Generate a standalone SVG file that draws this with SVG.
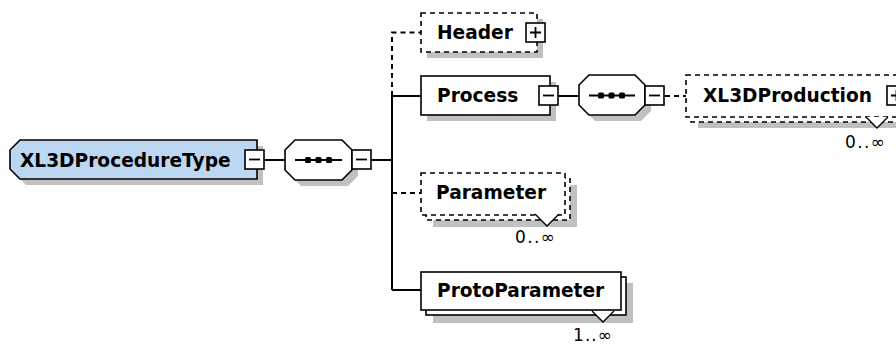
<svg xmlns="http://www.w3.org/2000/svg" width="896" height="344" viewBox="0 0 896 344">
<style>
.shadow{fill:#c0c0c0;stroke:none}
.box{fill:#fff;stroke:#000;stroke-width:1.6}
.dbox{fill:#fff;stroke:#000;stroke-width:1.6;stroke-dasharray:5 4}
.root{fill:#bcd7f2;stroke:#000;stroke-width:1.6}
.lbl{font-family:"DejaVu Sans",Verdana,sans-serif;font-weight:bold;font-size:18.6px;fill:#000}
.occ{font-family:"DejaVu Sans",Verdana,sans-serif;font-size:17px;fill:#000}
.ln{stroke:#000;stroke-width:2;fill:none}
.dl{stroke:#000;stroke-width:2;fill:none;stroke-dasharray:5 4}
.btn{fill:#fff;stroke:#000;stroke-width:1.6}
.sym{stroke:#000;stroke-width:1.8;fill:none}
.tri{fill:#fff;stroke:#000;stroke-width:1.4}
</style>
<g id="connectors">
<line class="ln" x1="264" y1="160" x2="285" y2="160"/>
<line class="ln" x1="371" y1="160" x2="392" y2="160"/>
<path class="dl" d="M392,96 V32.5 H421"/>
<line class="ln" x1="392" y1="96" x2="392" y2="290"/>
<line class="ln" x1="392" y1="96" x2="421" y2="96"/>
<line class="dl" x1="392" y1="193" x2="421" y2="193"/>
<line class="ln" x1="392" y1="290" x2="421" y2="290"/>
<line class="ln" x1="558" y1="96" x2="579" y2="96"/>
<line class="dl" x1="665" y1="96" x2="686" y2="96"/>
</g>
<g id="XL3DProcedureType">
<polygon class="shadow" points="26,146 263,146 263,185 26,185 16,175 16,156"/>
<polygon class="root" points="20,140 257,140 257,179 20,179 10,169 10,150"/>
<text class="lbl" x="20" y="166.5">XL3DProcedureType</text>
<rect class="btn" x="245" y="150" width="19" height="19"/>
<line class="sym" x1="249" y1="159.5" x2="260" y2="159.5"/>
</g>
<g id="seq1">
<polygon class="shadow" points="301,146 348,146 358,156 358,176 348,186 301,186 291,176 291,156"/>
<polygon class="box" points="295,140 342,140 352,150 352,170 342,180 295,180 285,170 285,150"/>
<line class="sym" x1="295" y1="160" x2="342" y2="160"/>
<rect x="305" y="157" width="6" height="6" rx="1.5"/>
<rect x="315.5" y="157" width="6" height="6" rx="1.5"/>
<rect x="326" y="157" width="6" height="6" rx="1.5"/>
<rect class="btn" x="352" y="150" width="19" height="19"/>
<line class="sym" x1="356" y1="159.5" x2="367" y2="159.5"/>
</g>
<g id="Header">
<rect class="shadow" x="427" y="19" width="116" height="39"/>
<rect class="dbox" x="421" y="13" width="116" height="39"/>
<text class="lbl" x="437" y="38.5">Header</text>
<rect class="btn" x="526" y="23" width="19" height="19"/>
<path class="sym" d="M530,32.5 H541 M535.5,27 V38"/>
</g>
<g id="Process">
<rect class="shadow" x="427" y="82" width="129" height="39"/>
<rect class="box" x="421" y="76" width="129" height="39"/>
<text class="lbl" x="437" y="102">Process</text>
<rect class="btn" x="539" y="86" width="19" height="19"/>
<line class="sym" x1="543" y1="95.5" x2="554" y2="95.5"/>
</g>
<g id="seq2">
<polygon class="shadow" points="595,81 641,81 651,91 651,111 641,121 595,121 585,111 585,91"/>
<polygon class="box" points="589,75 635,75 645,85 645,105 635,115 589,115 579,105 579,85"/>
<line class="sym" x1="589" y1="95.5" x2="635" y2="95.5"/>
<rect x="598" y="92.5" width="6" height="6" rx="1.5"/>
<rect x="608.5" y="92.5" width="6" height="6" rx="1.5"/>
<rect x="619" y="92.5" width="6" height="6" rx="1.5"/>
<rect class="btn" x="645" y="86" width="19" height="19"/>
<line class="sym" x1="649" y1="95.5" x2="660" y2="95.5"/>
</g>
<g id="XL3DProduction">
<rect class="shadow" x="698" y="87" width="210" height="41"/>
<rect class="dbox" x="691" y="80" width="215" height="42"/>
<rect class="dbox" x="686" y="75" width="215" height="42"/>
<text class="lbl" x="703" y="102">XL3DProduction</text>
<rect class="btn" x="887" y="86" width="19" height="19"/>
<path class="sym" d="M891,95.5 H902 M896.5,90 V101"/>
<polyline class="tri" points="866,117 877,128 888,117"/>
<text class="occ" x="845" y="148" textLength="40" lengthAdjust="spacing">0..∞</text>
</g>
<g id="Parameter">
<rect class="shadow" x="433" y="185" width="144" height="42"/>
<rect class="dbox" x="426" y="178" width="144" height="42"/>
<rect class="dbox" x="421" y="173" width="144" height="42"/>
<text class="lbl" x="436" y="199">Parameter</text>
<polyline class="tri" points="535,214 547,226 559,214"/>
<text class="occ" x="515" y="243" textLength="40" lengthAdjust="spacing">0..∞</text>
</g>
<g id="ProtoParameter">
<rect class="shadow" x="433" y="283" width="200" height="40"/>
<rect class="box" x="426" y="277" width="200" height="38"/>
<rect class="box" x="421" y="272" width="200" height="38"/>
<text class="lbl" x="437" y="297">ProtoParameter</text>
<polyline class="tri" points="592,311 603,322 614,311"/>
<text class="occ" x="573" y="341" textLength="39" lengthAdjust="spacing">1..∞</text>
</g>
</svg>
